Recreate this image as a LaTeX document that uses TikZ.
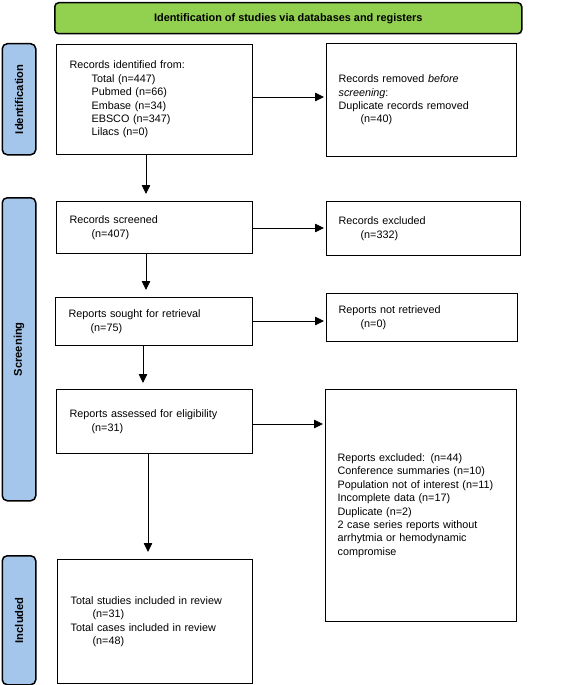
\documentclass[tikz,border=0pt]{standalone}
\usepackage{fontspec}
\setmainfont{Liberation Sans}
\usetikzlibrary{arrows.meta,calc}
\definecolor{hdrgreen}{HTML}{92D050}
\definecolor{sideblue}{HTML}{A4C6EA}
\begin{document}
\begin{tikzpicture}[x=1pt,y=-1pt,
  box/.style={draw, line width=1.2pt, anchor=north west, align=left, inner xsep=13pt, inner ysep=0pt,
     font=\fontsize{10.8}{13.4}\selectfont},
  side/.style={draw, line width=1.5pt, fill=sideblue, rounded corners=5pt, anchor=north west, minimum width=33.5pt, inner sep=0pt},
  sidetxt/.style={rotate=90, font=\fontsize{11.2}{12}\selectfont\bfseries},
  arr/.style={-{Triangle[length=9pt,width=8.5pt]}, line width=0.8pt}]
\useasboundingbox (0,0) rectangle (561,685);
% header
\node[draw, line width=1.5pt, fill=hdrgreen, rounded corners=4pt, anchor=north west, minimum width=467pt, minimum height=31pt, inner sep=0pt,
  font=\fontsize{10.9}{12}\selectfont\bfseries] (hdr) at (54,2) {Identification of studies via databases and registers};
% side labels
\node[side, minimum height=111pt] (sid) at (1.5,43) {};
\node[sidetxt] (sidt) at (sid.center) {Identification};
\node[side, minimum height=303pt] (sscr) at (1.5,197) {};
\node[sidetxt] (sscrt) at (sscr.center) {Screening};
\node[side, minimum height=129pt] (sinc) at (1.5,555) {};
\node[sidetxt] (sinct) at (sinc.center) {Included};
% boxes
\newcommand{\ind}{\hspace*{22pt}}
\node[box, text width=170pt, minimum height=110pt] (b1) at (56,44) {Records identified from:\\
\ind Total (n=447)\\ \ind Pubmed (n=66)\\ \ind Embase (n=34)\\ \ind EBSCO (n=347)\\ \ind Lilacs (n=0)\\[2pt]};
\node[box, text width=166pt, minimum height=113pt, inner xsep=12pt] (b2) at (326,43) {Records removed \textit{before}\\ \textit{screening}:\\
Duplicate records removed\\ \ind(n=40)\\[3pt]};
\node[box, text width=170pt, minimum height=52pt] (b3) at (56,201) {Records screened\\ \ind(n=407)\\[3pt]};
\node[box, text width=170pt, minimum height=54pt, inner xsep=12pt] (b4) at (326,201) {Records excluded\\ \ind(n=332)\\[5pt]};
\node[box, text width=171pt, minimum height=48pt] (b5) at (55,297) {Reports sought for retrieval\\ \ind(n=75)};
\node[box, text width=167pt, minimum height=48pt, inner xsep=12pt] (b6) at (326,293) {Reports not retrieved\\ \ind(n=0)\\[3pt]};
\node[box, text width=170pt, minimum height=64pt] (b7) at (56,389) {Reports assessed for eligibility\\ \ind(n=31)};
\node[box, text width=167pt, minimum height=232pt, inner xsep=12pt] (b8) at (325,389) {Reports excluded: (n=44)\\
Conference summaries (n=10)\\ Population not of interest (n=11)\\ Incomplete data (n=17)\\ Duplicate (n=2)\\
2 case series reports without\\ arrhytmia or hemodynamic\\ compromise\\[6pt]};
\node[box, text width=169pt, minimum height=124pt] (b9) at (57,559) {Total studies included in review\\ \ind(n=31)\\
Total cases included in review\\ \ind(n=48)};
% arrows
\draw[arr, shorten >=2pt] (b1.east |- 0,97) -- (b2.west |- 0,97);
\draw[arr, shorten >=2pt] (b3.east |- 0,228) -- (b4.west |- 0,228);
\draw[arr, shorten >=2pt] (b5.east |- 0,321) -- (b6.west |- 0,321);
\draw[arr, shorten >=2pt] (b7.east |- 0,424) -- (b8.west |- 0,424);
\draw[arr, shorten >=7pt] (b1.south -| 146,0) -- (b3.north -| 146,0);
\draw[arr, shorten >=7pt] (b3.south -| 146,0) -- (b5.north -| 146,0);
\draw[arr, shorten >=6pt] (b5.south -| 143,0) -- (b7.north -| 143,0);
\draw[arr, shorten >=7pt] (b7.south -| 148,0) -- (b9.north -| 148,0);
\end{tikzpicture}
\end{document}
